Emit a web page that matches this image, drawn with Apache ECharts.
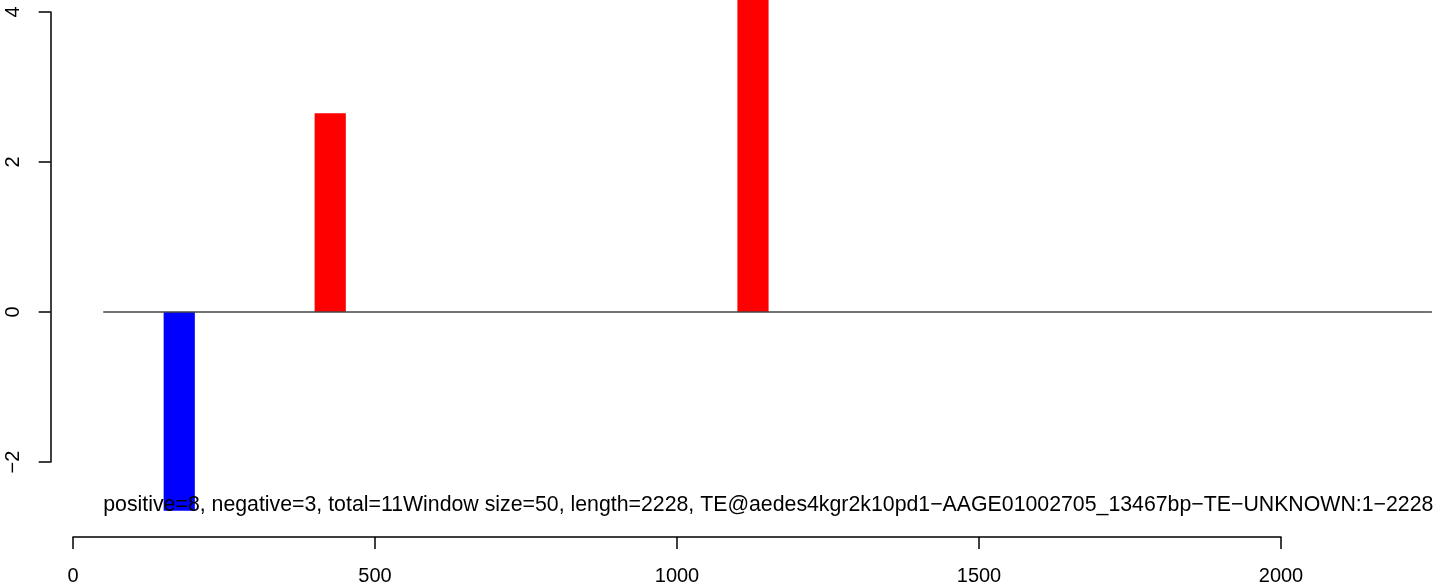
<!DOCTYPE html>
<html>
<head>
<meta charset="utf-8">
<script src="https://cdn.jsdelivr.net/npm/echarts@6/dist/echarts.min.js"></script>
<style>
html,body{margin:0;padding:0;background:#fff;}
#chart{width:1444px;height:586px;}
</style>
</head>
<body>
<div id="chart"></div>
<script>
// ---- data ----
const binStarts = [150, 400, 1100];
const binEnds = [200, 450, 1150];
const scores = [-2.65, 2.65, 5.75];
const zeroLineX = [50, 2250];
const xTickValues = [0, 500, 1000, 1500, 2000];
const yTickValues = [-2, 0, 2, 4];
const annotationText = 'positive=8, negative=3, total=11Window size=50, length=2228, TE@aedes4kgr2k10pd1\u2212AAGE01002705_13467bp\u2212TE\u2212UNKNOWN:1\u22122228';
const annotationPos = [50, -2.58];

const FONT = '"Liberation Sans", Arial, Helvetica, sans-serif';
const chart = echarts.init(document.getElementById('chart'), null, {renderer: 'canvas'});

const barData = binStarts.map((s, i) => [s, binEnds[i], scores[i]]);

const option = {
  backgroundColor: '#ffffff',
  animation: false,
  grid: [
    {left: 50.7, right: 0, top: 0, bottom: 49},
    {left: 50.7, width: 10, top: 12, height: 450},
    {left: 73, width: 1208, top: 0, bottom: 49}
  ],
  xAxis: [
    {gridIndex: 0, type: 'value', min: -37, max: 2270, show: false},
    {gridIndex: 1, type: 'value', min: 0, max: 1, show: false},
    {gridIndex: 2, type: 'value', min: xTickValues[0], max: xTickValues[xTickValues.length - 1],
     interval: xTickValues[1] - xTickValues[0], position: 'bottom',
     axisLine: {show: true, onZero: false, lineStyle: {color: '#000', width: 1.5}},
     axisTick: {show: true, inside: false, length: 12, lineStyle: {color: '#000', width: 1.5}},
     axisLabel: {show: true, margin: 29, fontSize: 20, color: '#000', fontFamily: FONT,
                 showMinLabel: true, showMaxLabel: true, formatter: v => String(v)},
     splitLine: {show: false}}
  ],
  yAxis: [
    {gridIndex: 0, type: 'value', min: -3.0, max: 4.16, show: false},
    {gridIndex: 1, type: 'value', min: yTickValues[0], max: yTickValues[yTickValues.length - 1],
     interval: yTickValues[1] - yTickValues[0], position: 'left',
     axisLine: {show: true, onZero: false, lineStyle: {color: '#000', width: 1.5}},
     axisTick: {show: true, inside: false, length: 12, lineStyle: {color: '#000', width: 1.5}},
     axisLabel: {show: true, rotate: 90, margin: 27, fontSize: 20, color: '#000', fontFamily: FONT,
                 showMinLabel: true, showMaxLabel: true,
                 formatter: v => String(v).replace('-', '\u2212')},
     splitLine: {show: false}},
    {gridIndex: 2, type: 'value', min: 0, max: 1, show: false}
  ],
  series: [
    {
      type: 'custom',
      xAxisIndex: 0, yAxisIndex: 0,
      z: 2,
      data: barData,
      renderItem: function (params, api) {
        const s = api.value(0), e = api.value(1), v = api.value(2);
        const p0 = api.coord([s, 0]);
        const p1 = api.coord([e, v]);
        return {
          type: 'rect',
          shape: {x: p0[0], y: Math.min(p0[1], p1[1]), width: p1[0] - p0[0] + 1, height: Math.abs(p1[1] - p0[1])},
          style: {fill: v < 0 ? '#0000FF' : '#FF0000'}
        };
      }
    },
    {
      type: 'line',
      xAxisIndex: 0, yAxisIndex: 0,
      z: 3,
      symbol: 'none',
      lineStyle: {color: '#444', width: 1.5},
      data: [[zeroLineX[0], 0], [zeroLineX[1], 0]]
    },
    {
      type: 'custom',
      xAxisIndex: 0, yAxisIndex: 0,
      z: 4,
      data: [annotationPos],
      renderItem: function (params, api) {
        const p = api.coord([api.value(0), api.value(1)]);
        return {
          type: 'text',
          x: p[0], y: p[1],
          style: {text: annotationText, fill: '#000', font: '21.3px ' + FONT, align: 'left', verticalAlign: 'middle'}
        };
      }
    }
  ]
};
chart.setOption(option);
</script>
</body>
</html>
